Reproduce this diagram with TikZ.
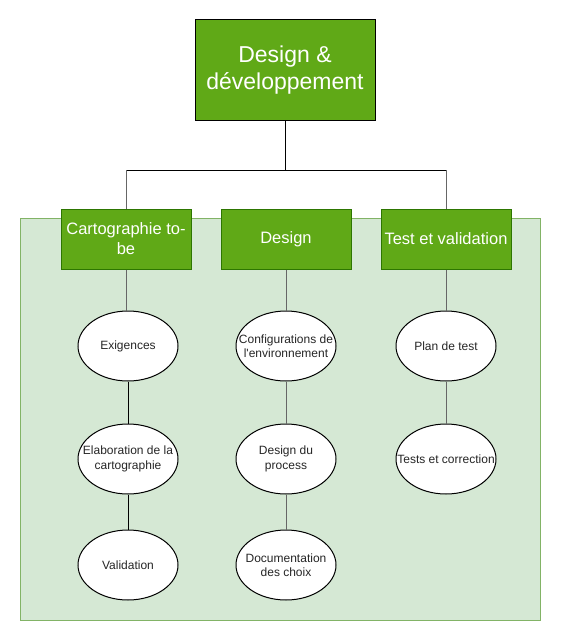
\documentclass[tikz,border=0pt]{standalone}
\usepackage{fontspec}
\setmainfont{Liberation Sans}
\usetikzlibrary{shapes.geometric}

\definecolor{vert}{HTML}{60A917}
\definecolor{vertfonce}{HTML}{2D7600}
\definecolor{vertpale}{HTML}{D5E8D4}
\definecolor{vertbord}{HTML}{82B366}
\definecolor{gris}{HTML}{666666}

\tikzstyle{racine}= [rectangle,draw,black,fill=vert,text=white,minimum width=180pt,minimum height=100pt,align=center,font=\fontsize{23}{27.6}\selectfont]
\tikzstyle{etape}= [rectangle,draw=vertfonce,fill=vert,text=white,minimum width=130pt,minimum height=60pt,inner sep=0pt,align=center,font=\fontsize{16.5}{20}\selectfont]
\tikzstyle{tache}= [ellipse,draw,black,fill=white,text=black!85,minimum width=100pt,minimum height=70pt,inner xsep=-25pt,inner ysep=0pt,align=center,font=\fontsize{12}{14.4}\selectfont]
\tikzstyle{fond}= [fill=vertpale,draw=vertbord]

\begin{document}
\begin{tikzpicture}[x=1pt,y=-1pt,line width=1pt]
		\useasboundingbox (0,0) rectangle (561,642);
		\path[fond] (20,218) rectangle (540,620);

		\node (dev) at (285,70) [racine] {Design \&\\développement};

		\node (carto) at (126,239) [etape] {Cartographie to-\\be};
		\node (design) at (286,239) [etape] {Design};
		\node (test) at (446,239) [etape] {Test et validation};

		\node (exig) at (128,346) [tache] {Exigences};
		\node (elab) at (128,459) [tache] {Elaboration de la\\cartographie};
		\node (valid) at (128,565) [tache] {Validation};

		\node (config) at (286,346) [tache] {Configurations de\\l\textquotesingle environnement};
		\node (procs) at (286,459) [tache] {Design du\\process};
		\node (docu) at (286,565) [tache] {Documentation\\des choix};

		\node (plan) at (446,346) [tache] {Plan de test};
		\node (corr) at (446,459) [tache] {Tests et correction};

		\coordinate (noeud) at (285,170);
		\coordinate (gauche) at (carto |- noeud);
		\coordinate (droite) at (test |- noeud);

		\path[black] (dev) edge[] (noeud);
		\path[black] (gauche) edge[] (droite);
		\path[gris] (gauche) edge[] (carto);
		\path[gris] (droite) edge[] (test);

		\path[gris] (carto) edge[] (carto |- exig.north);
		\path[black] (exig) edge[] (elab);
		\path[black] (elab) edge[] (valid);

		\path[gris] (design) edge[] (config);
		\path[gris] (config) edge[] (procs);
		\path[gris] (procs) edge[] (docu);

		\path[gris] (test) edge[] (plan);
		\path[gris] (plan) edge[] (corr);

	\end{tikzpicture}
\end{document}
